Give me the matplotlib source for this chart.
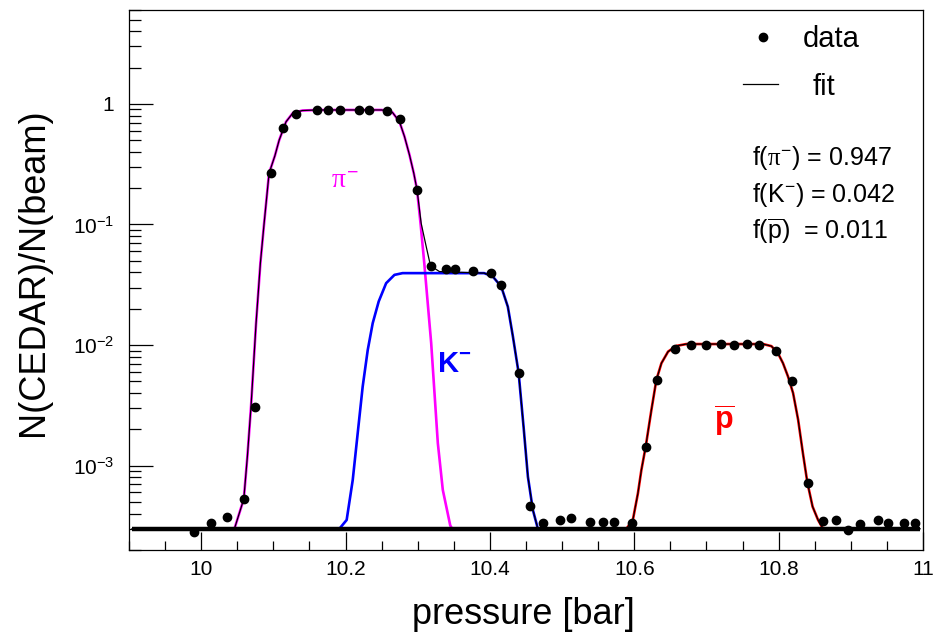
import matplotlib
matplotlib.use('Agg')
import matplotlib.pyplot as plt
from matplotlib.ticker import FixedLocator, LogLocator, NullFormatter, MultipleLocator
import numpy as np

plt.rcParams['font.family'] = ['Liberation Sans', 'DejaVu Sans']
plt.rcParams['mathtext.fontset'] = 'custom'
plt.rcParams['mathtext.rm'] = 'Liberation Sans'
plt.rcParams['mathtext.it'] = 'Liberation Serif'
plt.rcParams['mathtext.bf'] = 'Liberation Sans:bold'

# measured CEDAR pressure scan
pressure = [9.990, 10.013, 10.036, 10.059, 10.074, 10.097, 10.114, 10.131, 10.160, 10.175,
            10.192, 10.218, 10.233, 10.258, 10.275, 10.299, 10.318, 10.339, 10.352, 10.376,
            10.401, 10.415, 10.440, 10.455, 10.473, 10.497, 10.512, 10.539, 10.556, 10.572,
            10.597, 10.616, 10.631, 10.656, 10.678, 10.699, 10.720, 10.738, 10.756, 10.773,
            10.797, 10.819, 10.840, 10.861, 10.879, 10.896, 10.913, 10.938, 10.952, 10.973,
            10.989]
ratio = [2.8e-4, 3.33e-4, 3.78e-4, 5.3e-4, 3.05e-3, 0.266, 0.632, 0.826, 0.89, 0.89,
         0.89, 0.89, 0.89, 0.875, 0.746, 0.194, 0.0456, 0.0426, 0.0426, 0.0415,
         0.0395, 0.0316, 5.9e-3, 4.67e-4, 3.37e-4, 3.55e-4, 3.71e-4, 3.44e-4, 3.44e-4, 3.44e-4,
         3.33e-4, 1.44e-3, 5.15e-3, 9.25e-3, 0.01004, 0.01004, 0.0102, 0.01004, 0.0102, 0.01004,
         8.95e-3, 5.05e-3, 7.24e-4, 3.48e-4, 3.55e-4, 2.95e-4, 3.27e-4, 3.55e-4, 3.33e-4, 3.33e-4,
         3.33e-4]

# fit components
pion_p = [10.046, 10.059, 10.064, 10.069, 10.076, 10.082, 10.087, 10.094, 10.102, 10.108,
          10.1175, 10.127, 10.140, 10.160, 10.250, 10.2585, 10.265, 10.2746, 10.2816, 10.2885,
          10.2945, 10.299, 10.304, 10.309, 10.3186, 10.3278, 10.3347, 10.345, 10.3477]
pion_v = [3.0e-4, 5.3e-4, 1.2e-3, 3.1e-3, 1.52e-2, 4.8e-2, 0.10, 0.266, 0.37, 0.50,
          0.71, 0.84, 0.88, 0.89, 0.89, 0.875, 0.848, 0.713, 0.536, 0.378,
          0.266, 0.194, 0.10, 0.048, 0.0104, 1.54e-3, 6.3e-4, 3.2e-4, 3.0e-4]

kaon_p = [10.1914, 10.2015, 10.2099, 10.2168, 10.2237, 10.2307, 10.2376, 10.2459, 10.2562, 10.2677,
          10.279, 10.392, 10.404, 10.4157, 10.4248, 10.4318, 10.4397, 10.4466, 10.4526, 10.4595,
          10.4664]
kaon_v = [3.0e-4, 3.55e-4, 7.6e-4, 1.86e-3, 4.53e-3, 9.1e-3, 0.0152, 0.023, 0.0326, 0.0382,
          0.0395, 0.0395, 0.037, 0.0305, 0.0208, 0.0118, 5.9e-3, 2.1e-3, 8.1e-4, 4.3e-4,
          3.0e-4]

pbar_p = [10.589, 10.598, 10.605, 10.6098, 10.6158, 10.6237, 10.6306, 10.6376, 10.6468, 10.6584,
          10.672, 10.7785, 10.790, 10.799, 10.806, 10.813, 10.820, 10.827, 10.8336, 10.8398,
          10.847, 10.8546, 10.8616]
pbar_v = [3.0e-4, 3.55e-4, 5.9e-4, 9.2e-4, 1.44e-3, 2.9e-3, 5.15e-3, 7.08e-3, 8.83e-3, 9.85e-3,
          0.0102, 0.0102, 9.8e-3, 8.57e-3, 7.08e-3, 5.48e-3, 4.0e-3, 2.4e-3, 1.27e-3, 7.24e-4,
          4.58e-4, 3.55e-4, 3.0e-4]

# total fit where pion tail and kaon plateau overlap
junc_p = [10.3047, 10.3117, 10.3176, 10.330]
junc_v = [0.1025, 0.0656, 0.0456, 0.0407]

bg_level = 3.0e-4
bg_range = [9.904, 10.996]

fractions = [r'f($\pi^{-}$) = 0.947',
             r'f($\mathregular{K^{-}}$) = 0.042',
             r'f($\overline{\mathregular{p}}$)  = 0.011']

xticks = [10, 10.2, 10.4, 10.6, 10.8, 11]
xticklabels = ['10', '10.2', '10.4', '10.6', '10.8', '11']
yticks = [1e-3, 1e-2, 1e-1, 1]
yticklabels = [r'$\mathregular{10^{-3}}$', r'$\mathregular{10^{-2}}$',
               r'$\mathregular{10^{-1}}$', '1']

# assemble the total fit curve
pion_p_a, pion_v_a = np.array(pion_p), np.array(pion_v)
kaon_p_a, kaon_v_a = np.array(kaon_p), np.array(kaon_v)
tot_p = np.concatenate([[bg_range[0]], pion_p_a[pion_p_a <= 10.299], junc_p,
                        kaon_p_a[kaon_p_a >= 10.392], pbar_p, [bg_range[1]]])
tot_v = np.concatenate([[bg_level], pion_v_a[pion_p_a <= 10.299], junc_v,
                        kaon_v_a[kaon_p_a >= 10.392], pbar_v, [bg_level]])

fig = plt.figure(figsize=(9.33, 6.32), dpi=100)
ax = fig.add_axes([0.1383, 0.1297, 0.8510, 0.8545])

ax.plot(pion_p, pion_v, color='#ff00ff', lw=1.9, zorder=2)
ax.plot(kaon_p, kaon_v, color='#0000ff', lw=1.9, zorder=2)
ax.plot(pbar_p, pbar_v, color='#ff0000', lw=1.9, zorder=2)
ax.plot(tot_p, tot_v, color='black', lw=0.9, zorder=3)
ax.plot(bg_range, [bg_level, bg_level], color='black', lw=3.2, zorder=4, solid_capstyle='butt')
ax.plot(pressure, ratio, 'o', color='black', ms=6, zorder=5)

ax.set_yscale('log')
ax.set_xlim(9.9, 11.0)
ax.set_ylim(2e-4, 6)

ax.xaxis.set_major_locator(FixedLocator(xticks))
ax.set_xticklabels(xticklabels)
ax.xaxis.set_minor_locator(MultipleLocator(0.05))
ax.yaxis.set_major_locator(FixedLocator(yticks))
ax.set_yticklabels(yticklabels)
ax.yaxis.set_minor_locator(LogLocator(base=10, subs=np.arange(2, 10)))
ax.yaxis.set_minor_formatter(NullFormatter())

ax.tick_params(axis='both', which='both', direction='in', width=0.9, labelsize=15,
               top=False, right=False)
ax.tick_params(axis='x', which='major', length=13, pad=7)
ax.tick_params(axis='x', which='minor', length=6.5)
ax.tick_params(axis='y', which='major', length=17, pad=10.5)
ax.tick_params(axis='y', which='minor', length=8.5)
for s in ax.spines.values():
    s.set_linewidth(0.9)

ax.set_xlabel('pressure [bar]', fontsize=26)
ax.xaxis.label.set_va('baseline')
ax.xaxis.set_label_coords(0.497, -0.137)
fig.text(0.0358, 0.570, 'N(CEDAR)/N(beam)', fontsize=26, rotation=90,
         ha='center', va='center')

# particle labels
ax.text(10.180, 0.201, r'$\pi^{-}$', color='#ff00ff', fontsize=20, va='baseline')
ax.text(10.326, 6.0e-3, r'$\mathbf{K^{-}}$', color='#0000ff', fontsize=21, va='baseline')
ax.text(10.710, 1.98e-3, r'$\overline{\mathbf{p}}$', color='#ff0000', fontsize=22, va='baseline')

# legend
ax.plot([0.7985], [0.95], 'o', color='black', ms=6, transform=ax.transAxes, clip_on=False)
ax.plot([0.7733, 0.8174], [0.863, 0.863], color='black', lw=0.9, transform=ax.transAxes)
ax.text(0.849, 0.932, 'data', fontsize=21, transform=ax.transAxes, va='baseline')
ax.text(0.861, 0.8426, 'fit', fontsize=21, transform=ax.transAxes, va='baseline')

for i, s in enumerate(fractions):
    ax.text(0.784, 0.713 - 0.0685 * i, s, fontsize=18, transform=ax.transAxes, va='baseline')

fig.savefig('out.png', dpi=100)
